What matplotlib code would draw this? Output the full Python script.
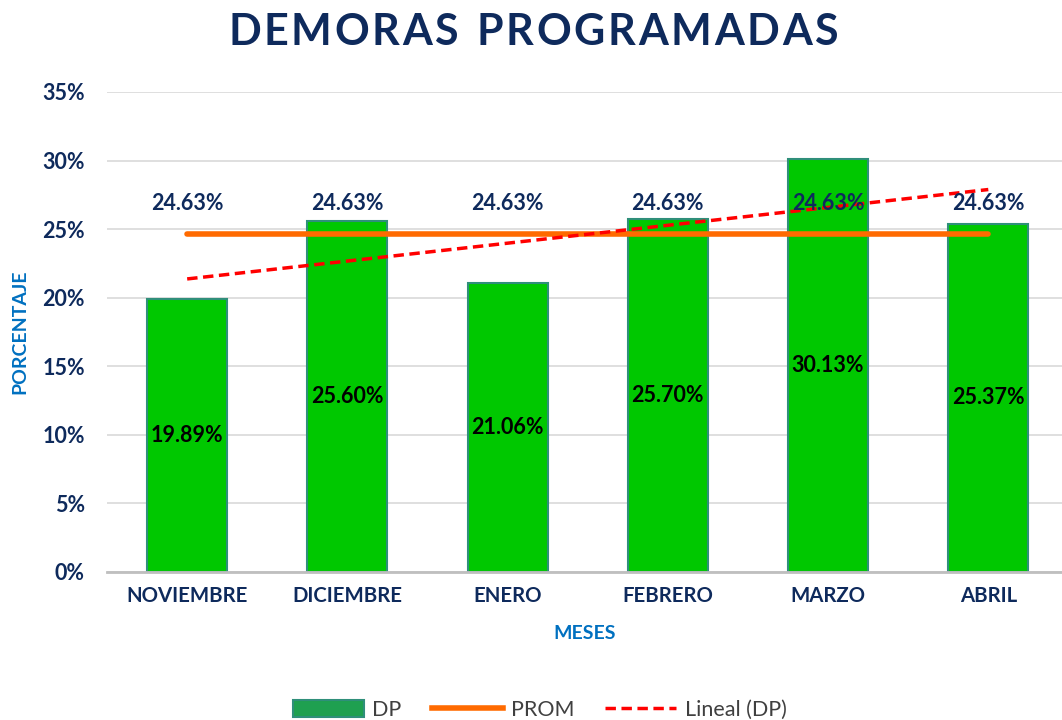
import matplotlib
matplotlib.use("Agg")
import matplotlib.pyplot as plt
import numpy as np
from matplotlib.lines import Line2D
from matplotlib.patches import Patch

months = ["NOVIEMBRE", "DICIEMBRE", "ENERO", "FEBRERO", "MARZO", "ABRIL"]
dp = [19.89, 25.60, 21.06, 25.70, 30.13, 25.37]
prom_value = 24.63
prom = [prom_value] * len(months)
yticks = [0, 5, 10, 15, 20, 25, 30, 35]
title = "DEMORAS PROGRAMADAS"

plt.rcParams['font.family'] = ['Lato', 'DejaVu Sans']

navy = "#0e2a5c"
blue = "#0070c0"

W, H = 1062, 720
fig = plt.figure(figsize=(W / 100, H / 100), dpi=100)
ax = fig.add_axes([0.1008, 0.2056, 0.8992, 0.6667])

x = np.arange(len(months))
ax.bar(x, dp, width=0.5, color="#00c800", edgecolor="#2f8f7a", linewidth=1.5, zorder=2)

ax.plot(x, prom, color="#ff6a00", linewidth=4, zorder=3, solid_capstyle="round")

coef = np.polyfit(x, dp, 1)
trend = np.polyval(coef, x)
ax.plot(x, trend, color="#ff0000", linestyle=(0, (3, 1.6)), linewidth=2.5, zorder=4)

for xi, v in zip(x, dp):
    ax.text(xi, v / 2, f"{v:.2f}%", ha="center", va="center", fontsize=15.5,
            fontweight="bold", color="black", zorder=5)
for xi, v in zip(x, prom):
    ax.text(xi, v + 2.2, f"{v:.2f}%", ha="center", va="center", fontsize=15.5,
            fontweight="bold", color=navy, zorder=5)

ax.set_ylim(0, 35)
ax.set_xlim(-0.5, 5.46)
ax.set_yticks(yticks)
ax.set_yticklabels([f"{t}%" for t in yticks], fontsize=15.5, fontweight="bold", color=navy)
ax.set_xticks(x)
ax.set_xticklabels(months, fontsize=14.7, fontweight="bold", color=navy)
ax.tick_params(axis="both", length=0, pad=10)
ax.tick_params(axis="y", pad=16)
ax.yaxis.grid(True, color="#d9d9d9", linewidth=1.2, zorder=0)
ax.set_axisbelow(True)
for s in ["top", "right", "left"]:
    ax.spines[s].set_visible(False)
ax.spines["bottom"].set_color("#bfbfbf")
ax.spines["bottom"].set_linewidth(2)

ax.set_xlabel("MESES", fontsize=14, fontweight="bold", color=blue, labelpad=14)
ax.set_ylabel("PORCENTAJE", fontsize=14, fontweight="bold", color=blue)
ax.yaxis.set_label_coords(-0.082, 0.5)

# Title with letter spacing
fig.canvas.draw()
renderer = fig.canvas.get_renderer()
widths = []
for ch in title:
    t = fig.text(0, 0, ch if ch != " " else "n", fontsize=31, fontweight="bold")
    bb = t.get_window_extent(renderer)
    widths.append(bb.width * (0.55 if ch == " " else 1.0))
    t.remove()
left_px, right_px = 228, 838
spacing = (right_px - left_px - sum(widths)) / (len(title) - 1)
pos = left_px
for ch, w in zip(title, widths):
    if ch != " ":
        fig.text(pos / W, 1 - 32 / H, ch, ha="left", va="center", fontsize=31,
                 fontweight="bold", color=navy)
    pos += w + spacing

handles = [Patch(facecolor="#1fa050", edgecolor="#2f8f7a", linewidth=1.5),
           Line2D([0], [0], color="#ff6a00", linewidth=4),
           Line2D([0], [0], color="#ff0000", linestyle=(0, (3, 1.6)), linewidth=2.5)]
fig.legend(handles, ["DP", "PROM", "Lineal (DP)"], loc="center", bbox_to_anchor=(0.508, 0.014),
           ncol=3, frameon=False, fontsize=15.5, labelcolor="#404040",
           handlelength=3.3, handleheight=0.8, columnspacing=1.4, handletextpad=0.4)

fig.savefig("out.png", dpi=100)
